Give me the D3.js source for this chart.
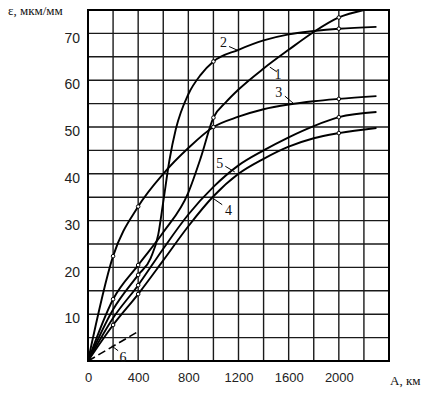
<!DOCTYPE html>
<html>
<head>
<meta charset="utf-8">
<script src="https://cdn.jsdelivr.net/npm/d3@7"></script>
<style>
  body { margin: 0; background: #fff; }
  svg { display: block; }
  .tick text { font-family: "Liberation Sans", Arial, sans-serif; fill: #222; }
  .xAxis .tick text { font-size: 13px; }
  .yAxis .tick text { font-size: 14px; }
  .axisTitle { font-family: "Liberation Serif", "Times New Roman", serif; font-size: 13px; fill: #111; }
  .curveLabel { font-family: "Liberation Serif", "Times New Roman", serif; font-size: 14px; fill: #111; }
</style>
</head>
<body>
<div id="plotSect"></div>
<script>
// values: [A, km ; ε, мкм/мм]
let curve1 = [[0,0],[200,13.2],[400,20.5],[600,27.5],[800,36],[900,43.5],[1000,52],[1100,55.3],[1200,58],[1400,62.5],[1600,66.5],[1800,70.3],[2000,73.4],[2200,75]];
let curve2 = [[0,0],[200,11],[400,18.4],[500,22],[560,27],[600,34],[650,43],[700,49.5],[800,57],[900,61.2],[1000,64],[1200,66.5],[1400,68.5],[1600,69.8],[1800,70.5],[2000,71],[2300,71.4]];
let curve3 = [[0,0],[200,22.4],[400,33],[600,40],[800,45.5],[1000,50],[1200,52.2],[1400,53.8],[1600,54.8],[1800,55.5],[2000,56],[2300,56.6]];
let curve4 = [[0,0],[200,7.7],[400,14.3],[600,21.5],[800,28.8],[1000,35.2],[1200,40],[1400,43.2],[1600,45.8],[1800,47.6],[2000,48.7],[2300,49.8]];
let curve5 = [[0,0],[200,9.2],[400,16.2],[600,24],[800,31.3],[1000,37.2],[1200,41.8],[1400,45],[1600,47.8],[1800,50.2],[2000,52.1],[2300,53.2]];
let curve6 = [[0,0],[400,6.3]];

// distances where a small circle is drawn on each curve
let marks1 = [200, 400, 1000, 2000];
let marks2 = [400, 1000, 2000];
let marks3 = [200, 400, 1000, 2000];
let marks4 = [200, 400, 2000];
let marks5 = [400, 2000];

let xTicks = [0, 400, 800, 1200, 1600, 2000];
let yTicks = [10, 20, 30, 40, 50, 60, 70];
let names = ["1", "2", "3", "4", "5", "6"];

// Chart setup //

let SVGwidth = 432,
SVGheight = 394,
margin = {top: 10, right: 43, bottom: 33, left: 88},
width = SVGwidth - margin.left - margin.right,
height = SVGheight - margin.top - margin.bottom;

let svg = d3.select("#plotSect").append("svg")
    .attr("width", SVGwidth)
    .attr("height", SVGheight)
    .append("g")
    .attr("transform", "translate(" + margin.left + "," + margin.top + ")");

let xScale = d3.scaleLinear().domain([0, 2400]).range([0, width]);
let yScale = d3.scaleLinear().domain([0, 75]).range([height, 0]);

// grid
svg.selectAll(".vgrid")
    .data(d3.range(200, 2400, 200))
    .enter().append("line")
    .attr("class", "vgrid")
    .attr("x1", d => xScale(d)).attr("x2", d => xScale(d))
    .attr("y1", 0).attr("y2", height)
    .style("stroke", "#1a1a1a").style("stroke-width", 1.4);

svg.selectAll(".hgrid")
    .data(d3.range(5, 75, 5))
    .enter().append("line")
    .attr("class", "hgrid")
    .attr("x1", 0).attr("x2", width)
    .attr("y1", d => yScale(d)).attr("y2", d => yScale(d))
    .style("stroke", "#1a1a1a").style("stroke-width", 1.4);

svg.append("rect")
    .attr("width", width).attr("height", height)
    .style("fill", "none").style("stroke", "#000").style("stroke-width", 2);

// axes
let xAxis = d3.axisBottom(xScale).tickValues(xTicks).tickFormat(d3.format("d")).tickSize(0).tickPadding(12);
svg.append("g")
    .attr("class", "xAxis")
    .attr("transform", "translate(0," + height + ")")
    .call(xAxis)
    .call(g => g.select(".domain").remove());

let yAxis = d3.axisLeft(yScale).tickValues(yTicks).tickSize(0).tickPadding(8);
svg.append("g")
    .attr("class", "yAxis")
    .call(yAxis)
    .call(g => g.select(".domain").remove())
    .selectAll("text").attr("dy", "0.62em");

svg.append("text")
    .attr("class", "axisTitle")
    .attr("x", -80).attr("y", 5)
    .text("ε, мкм/мм");

svg.append("text")
    .attr("class", "axisTitle")
    .attr("x", width + 1).attr("y", height + 24)
    .text("А, км");

// curves
let line = d3.line()
    .x(d => xScale(d[0]))
    .y(d => yScale(d[1]))
    .curve(d3.curveMonotoneX);

let curves = [curve1, curve2, curve3, curve4, curve5];
let marks = [marks1, marks2, marks3, marks4, marks5];

svg.selectAll(".curve")
    .data(curves)
    .enter().append("path")
    .attr("class", "curve")
    .attr("d", line)
    .style("fill", "none").style("stroke", "#000").style("stroke-width", 1.9);

svg.append("path")
    .attr("d", line(curve6))
    .style("fill", "none").style("stroke", "#000").style("stroke-width", 1.6)
    .style("stroke-dasharray", "8,4");

// small circles on curves, placed on the drawn path
curves.forEach(function(c, i) {
    let path = svg.selectAll(".curve").nodes()[i];
    let total = path.getTotalLength();
    marks[i].forEach(function(km) {
        let target = xScale(km), lo = 0, hi = total;
        for (let k = 0; k < 30; k++) {
            let mid = (lo + hi) / 2;
            if (path.getPointAtLength(mid).x < target) { lo = mid; } else { hi = mid; }
        }
        let p = path.getPointAtLength(lo);
        svg.append("circle")
            .attr("cx", p.x).attr("cy", p.y).attr("r", 1.8)
            .style("fill", "#fff").style("stroke", "#000").style("stroke-width", 1);
    });
});

// curve numbers with short leaders: [label position km, ε], [leader start], [leader end]
let labelPos = [[1515, 61.2], [1080, 68.2], [1520, 57.4], [1120, 32.2], [1050, 42.2], [280, 0.9]];
let leaders = [
    [[1450, 62.8], [1505, 61.8]],
    [[1125, 67.2], [1200, 66.3]],
    [[1570, 56.6], [1640, 55]],
    [[1000, 34.7], [1070, 33.4]],
    [[1095, 41.6], [1170, 40.4]],
    [[190, 3.2], [240, 2.2]]
];

svg.selectAll(".leader")
    .data(leaders)
    .enter().append("line")
    .attr("class", "leader")
    .attr("x1", d => xScale(d[0][0])).attr("y1", d => yScale(d[0][1]))
    .attr("x2", d => xScale(d[1][0])).attr("y2", d => yScale(d[1][1]))
    .style("stroke", "#000").style("stroke-width", 1);

svg.selectAll(".curveLabel")
    .data(names)
    .enter().append("text")
    .attr("class", "curveLabel")
    .attr("x", (d, i) => xScale(labelPos[i][0]))
    .attr("y", (d, i) => yScale(labelPos[i][1]))
    .attr("text-anchor", "middle")
    .attr("dy", "0.35em")
    .text(d => d);
</script>
</body>
</html>
